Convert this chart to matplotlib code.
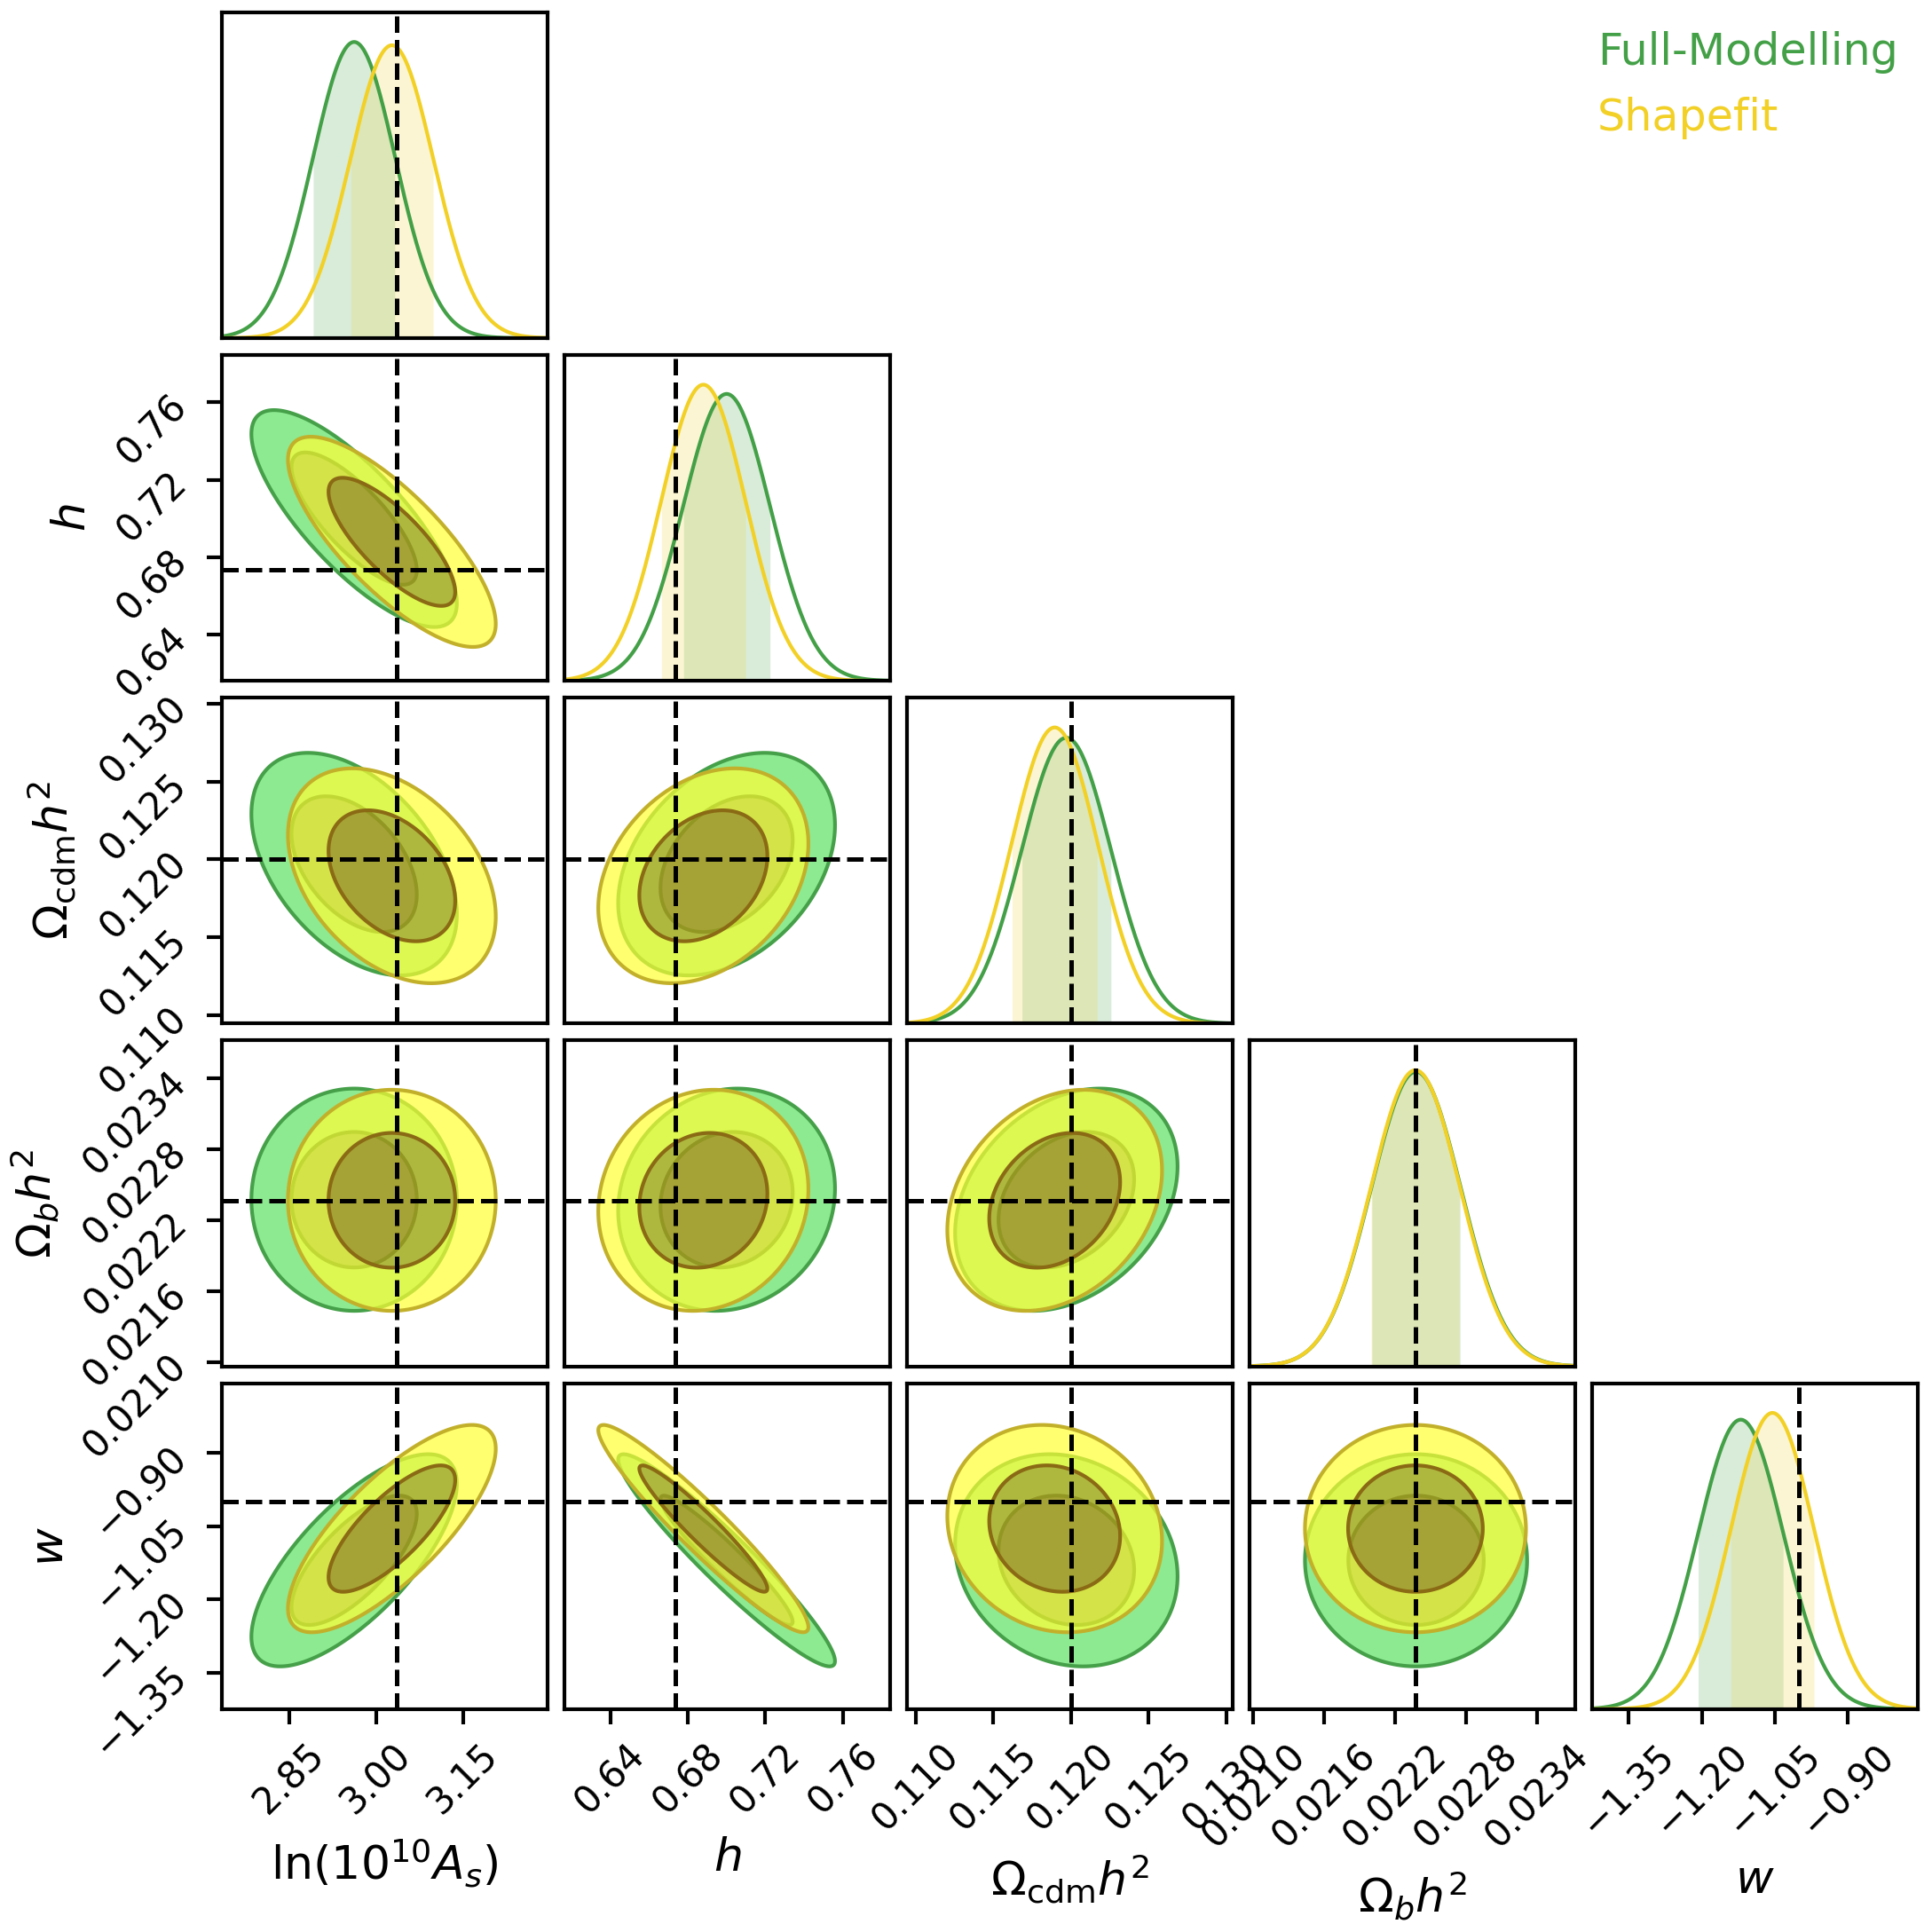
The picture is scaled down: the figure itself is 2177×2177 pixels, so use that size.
import matplotlib

matplotlib.use("Agg")

import matplotlib.pyplot as plt  # noqa: E402
import numpy as np  # noqa: E402
from matplotlib.ticker import FixedLocator, NullLocator, ScalarFormatter  # noqa: E402

# ---- data -------------------------------------------------------------------
labels = [r"$\ln(10^{10}A_s)$", r"$h$", r"$\Omega_{\rm cdm}h^2$", r"$\Omega_b h^2$", r"$w$"]
truth = [3.036, 0.6736, 0.1200, 0.02237, -1.0]

chain_names = ["Full-Modelling", "Shapefit"]
chain_colours = ["#43A047", "#F2D026"]

fm_mean = [2.962, 0.700, 0.11970, 0.022375, -1.120]
fm_sigma = [0.0712, 0.0225, 0.00288, 0.000378, 0.0875]
sf_mean = [3.027, 0.688, 0.11895, 0.022370, -1.055]
sf_sigma = [0.0720, 0.0218, 0.00278, 0.000376, 0.0855]

# correlation coefficients for each lower-triangle panel (row param, column param)
pairs = [(1, 0), (2, 0), (2, 1), (3, 0), (3, 1), (3, 2), (4, 0), (4, 1), (4, 2), (4, 3)]
fm_rho = [-0.78, -0.45, 0.35, 0.00, 0.10, 0.30, 0.72, -0.95, -0.15, 0.00]
sf_rho = [-0.78, -0.38, 0.30, 0.00, 0.10, 0.27, 0.77, -0.95, -0.12, 0.00]

ticks = [
    [2.85, 3.00, 3.15],
    [0.64, 0.68, 0.72, 0.76],
    [0.110, 0.115, 0.120, 0.125, 0.130],
    [0.0210, 0.0216, 0.0222, 0.0228, 0.0234],
    [-1.35, -1.20, -1.05, -0.90],
]

# ---- styling ------------------------------------------------------------------
extents = [(2.734, 3.295), (0.6163, 0.7843), (0.10944, 0.1304),
           (0.020966, 0.023721), (-1.425, -0.757)]
line_colours = [("#45A049", "#2E7D32"), ("#C2B02A", "#8A6A14")]
shade_alpha = 0.707
# 68% / 95% enclosed-mass radii of a 2D gaussian
r_levels = [np.sqrt(-2 * np.log(1 - 0.6827)), np.sqrt(-2 * np.log(1 - 0.9545))]
TICK_FS = 10
LABEL_FS = 12.5
LEGEND_FS = 11.8

plt.rcParams["font.family"] = "DejaVu Sans"
plt.rcParams["mathtext.fontset"] = "dejavusans"


def scale_colour(colour, factor):
    h = colour.strip("#")
    rgb = [int(h[i:i + 2], 16) for i in (0, 2, 4)]
    return tuple(min(255, max(0, int(v * factor))) / 255 for v in rgb)


def gaussian(x, mu, sig):
    return np.exp(-0.5 * ((x - mu) / sig) ** 2) / (sig * np.sqrt(2 * np.pi))


chains = [(fm_mean, fm_sigma, fm_rho), (sf_mean, sf_sigma, sf_rho)]
n = len(labels)

fig, axes = plt.subplots(n, n, figsize=(2177 / 300, 2177 / 300), dpi=300)
fig.subplots_adjust(left=0.1148, right=0.9926, bottom=0.1154, top=0.9936,
                    wspace=0.052, hspace=0.052)

for i in range(n):
    for j in range(n):
        ax = axes[i, j]
        if j > i:
            ax.axis("off")
            continue
        for s in ax.spines.values():
            s.set_linewidth(1.0)
        ax.set_xlim(*extents[j])
        if i == j:
            xs = np.linspace(*extents[j], 400)
            top = 0
            for (mean, sigma, _), colour in zip(chains, chain_colours):
                ys = gaussian(xs, mean[j], sigma[j])
                top = max(top, ys.max())
                lo, hi = mean[j] - sigma[j], mean[j] + sigma[j]
                m = (xs >= lo) & (xs <= hi)
                ax.fill_between(xs, 0, ys, where=m, color=colour, alpha=0.2, lw=0)
                ax.plot(xs, ys, color=colour, lw=1.0)
            ax.set_ylim(0, 1.1 * top)
            ax.axvline(truth[j], color="k", ls="--", lw=1.2, zorder=10)
        else:
            ax.set_ylim(*extents[i])
            k = pairs.index((i, j))
            gx = np.linspace(*extents[j], 300)
            gy = np.linspace(*extents[i], 300)
            X, Y = np.meshgrid(gx, gy)
            for c, ((mean, sigma, rho), colour) in enumerate(zip(chains, chain_colours)):
                r = rho[k]
                dx = (X - mean[j]) / sigma[j]
                dy = (Y - mean[i]) / sigma[i]
                d2 = (dx ** 2 - 2 * r * dx * dy + dy ** 2) / (1 - r ** 2)
                lv = [0, r_levels[0] ** 2, r_levels[1] ** 2]
                ax.contourf(X, Y, d2, levels=lv,
                            colors=[scale_colour(colour, 0.785), scale_colour(colour, 1.413)],
                            alpha=shade_alpha, zorder=2 + 2 * c)
                ax.contour(X, Y, d2, levels=lv[1:],
                           colors=[line_colours[c][1], line_colours[c][0]],
                           linewidths=1.0, zorder=3 + 2 * c)
            ax.axvline(truth[j], color="k", ls="--", lw=1.2, zorder=10)
            ax.axhline(truth[i], color="k", ls="--", lw=1.2, zorder=10)

        # ticks
        if i == n - 1:
            ax.xaxis.set_major_locator(FixedLocator(ticks[j]))
            ax.xaxis.set_major_formatter(ScalarFormatter(useOffset=False))
            ax.tick_params(axis="x", labelsize=TICK_FS, length=4, width=1.0)
            for lab in ax.get_xticklabels():
                lab.set_rotation(45)
            ax.set_xlabel(labels[j], fontsize=LABEL_FS)
        else:
            ax.xaxis.set_major_locator(NullLocator())
        if j == 0 and i > 0:
            ax.yaxis.set_major_locator(FixedLocator(ticks[i]))
            ax.yaxis.set_major_formatter(ScalarFormatter(useOffset=False))
            ax.tick_params(axis="y", labelsize=TICK_FS, length=4, width=1.0)
            for lab in ax.get_yticklabels():
                lab.set_rotation(45)
            ax.set_ylabel(labels[i], fontsize=LABEL_FS)
        else:
            ax.yaxis.set_major_locator(NullLocator())

fig.text(0.8268, 0.9666, chain_names[0], color=chain_colours[0], fontsize=LEGEND_FS,
         ha="left", va="baseline")
fig.text(0.8268, 0.9326, chain_names[1], color=chain_colours[1], fontsize=LEGEND_FS,
         ha="left", va="baseline")

fig.savefig("out.png", dpi=300)
plt.close(fig)
